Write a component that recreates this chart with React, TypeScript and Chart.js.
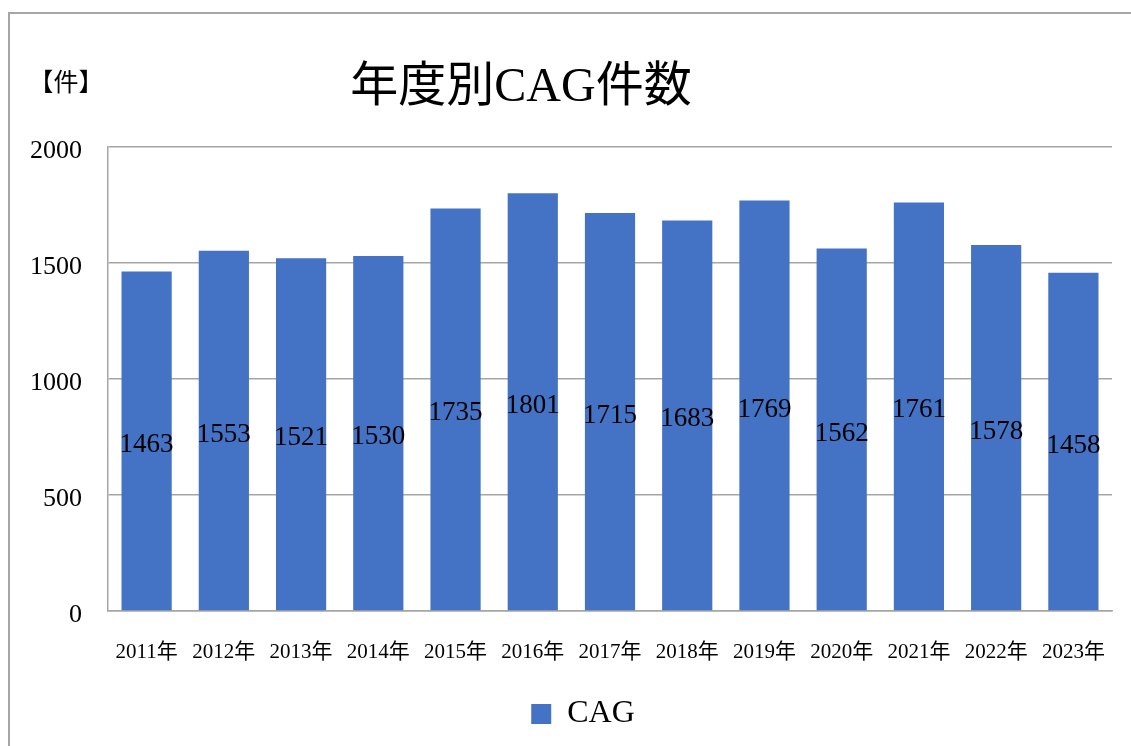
import React, { useEffect, useRef } from "react";
import { Chart, registerables } from "chart.js";

Chart.register(...registerables);

const categories = [
  "2011年", "2012年", "2013年", "2014年", "2015年", "2016年", "2017年",
  "2018年", "2019年", "2020年", "2021年", "2022年", "2023年",
];
const cagValues = [1463, 1553, 1521, 1530, 1735, 1801, 1715, 1683, 1769, 1562, 1761, 1578, 1458];
const yTickValues = [0, 500, 1000, 1500, 2000];
const seriesName = "CAG";
const chartTitle = "年度別CAG件数";
const unitLabel = "【件】";

const SERIF = "'Liberation Serif', 'Noto Sans CJK JP', serif";
const BAR_COLOR = "#4472C4";
const GRID_COLOR = "#a6a6a6";

const valueLabelPlugin = {
  id: "valueLabels",
  afterDatasetsDraw(chart: any) {
    const ctx = chart.ctx;
    const meta = chart.getDatasetMeta(0);
    const data = chart.data.datasets[0].data;
    ctx.save();
    ctx.font = `27px ${SERIF}`;
    ctx.fillStyle = "#000";
    ctx.textAlign = "center";
    ctx.textBaseline = "middle";
    meta.data.forEach((bar: any, i: number) => {
      const y = (bar.y + bar.base) / 2 + 4;
      ctx.fillText(String(data[i]), bar.x, y);
    });
    ctx.restore();
  },
};

const headerTextPlugin = {
  id: "headerText",
  afterLayout(chart: any) {
    if (chart.legend) {
      chart.legend.left += 17;
      chart.legend.right += 17;
    }
  },
  afterDraw(chart: any, _args: any, opts: any) {
    const ctx = chart.ctx;
    ctx.save();
    ctx.fillStyle = "#000";
    ctx.textBaseline = "middle";
    ctx.textAlign = "center";
    ctx.font = `48px ${SERIF}`;
    ctx.fillText(opts.title, opts.titleX, opts.titleY);
    ctx.font = `25px ${SERIF}`;
    ctx.fillText(opts.unit, opts.unitX, opts.unitY);
    ctx.restore();
  },
};

export default function App() {
  const canvasRef = useRef<HTMLCanvasElement | null>(null);

  useEffect(() => {
    if (!canvasRef.current) return;
    const chart = new Chart(canvasRef.current, {
      type: "bar",
      data: {
        labels: categories,
        datasets: [
          {
            label: seriesName,
            data: cagValues,
            backgroundColor: BAR_COLOR,
            borderWidth: 0,
            barPercentage: 0.65,
            categoryPercentage: 1,
          },
        ],
      },
      options: {
        animation: false,
        responsive: true,
        maintainAspectRatio: false,
        layout: { padding: { top: 133, left: 10, right: 19, bottom: 6 } },
        scales: {
          x: {
            grid: { display: false, drawTicks: false },
            border: { display: true, color: GRID_COLOR, width: 1.5 },
            ticks: {
              font: { family: SERIF, size: 21 },
              color: "#000",
              padding: 29,
              maxRotation: 0,
              autoSkip: false,
            },
            afterFit: (scale: any) => {
              scale.height = 77;
              scale.paddingLeft = 0;
              scale.paddingRight = 0;
            },
          },
          y: {
            min: 0,
            max: 2000,
            afterBuildTicks: (scale: any) => {
              scale.ticks = yTickValues.map((v) => ({ value: v }));
            },
            grid: { color: GRID_COLOR, lineWidth: 1.5, drawTicks: false },
            border: { display: true, color: GRID_COLOR, width: 1.5 },
            ticks: {
              font: { family: SERIF, size: 26 },
              color: "#000",
              padding: 26,
              labelOffset: 4,
              callback: (v: any) => String(v),
            },
            afterFit: (scale: any) => {
              scale.width = 88;
              scale.paddingTop = 0;
              scale.paddingBottom = 0;
            },
          },
        },
        plugins: {
          legend: {
            position: "bottom",
            labels: {
              boxWidth: 20,
              boxHeight: 20,
              font: { family: SERIF, size: 32 },
              color: "#000",
              padding: 10,
            },
          },
          title: { display: false },
          tooltip: { enabled: false },
          headerText: {
            title: chartTitle,
            titleX: 511,
            titleY: 74,
            unit: unitLabel,
            unitX: 56,
            unitY: 70,
          },
        } as any,
      },
      plugins: [valueLabelPlugin, headerTextPlugin],
    });
    return () => chart.destroy();
  }, []);

  return (
    <div
      style={{
        position: "fixed",
        left: 8,
        top: 12,
        right: 0,
        bottom: 0,
        borderLeft: "2px solid #a6a6a6",
        borderTop: "2px solid #a6a6a6",
        background: "#fff",
      }}
    >
      <div style={{ position: "relative", width: "100%", height: "100%" }}>
        <canvas ref={canvasRef} />
      </div>
    </div>
  );
}
